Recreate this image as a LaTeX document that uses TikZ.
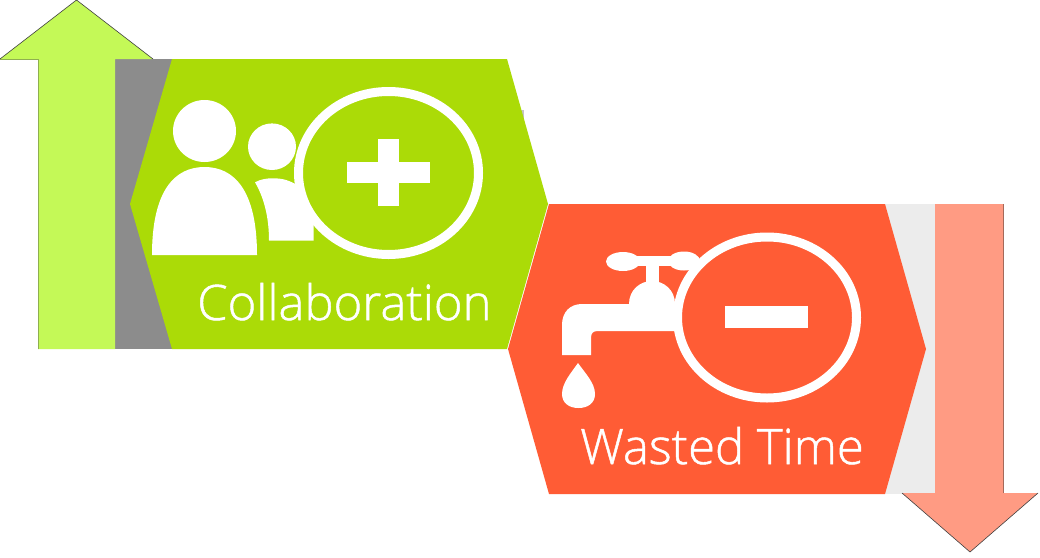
\documentclass[tikz,border=0pt]{standalone}
\usepackage{fontspec}
\newfontfamily\lblfont[RawFeature={embolden=1.0}]{Open Sans Light}
\definecolor{limeA}{HTML}{C4F957}
\definecolor{limeEdge}{HTML}{8FAF50}
\definecolor{greenB}{HTML}{ABDB07}
\definecolor{redB}{HTML}{FF5C35}
\definecolor{salmonA}{HTML}{FF9B83}
\definecolor{salmonEdge}{HTML}{A5695A}
\definecolor{grayA}{HTML}{8C8C8C}
\definecolor{grayB}{HTML}{ECECEC}
\definecolor{grayC}{HTML}{C4C4C4}
\tikzset{
  shapefill/.style={fill=#1,draw=none},
  icon/.style={fill=white,draw=none},
  ringmark/.style={fill=#1,draw=white,line width=9pt},
  caption/.style={text=white,anchor=base west,inner sep=0pt,font=\lblfont\fontsize{49}{49}\selectfont},
  edgeline/.style={draw=#1,line width=0.6pt}
}
\begin{document}
\begin{tikzpicture}[x=1pt,y=-1pt]
\useasboundingbox (0,0) rectangle (1040,557);
\fill[white] (0,0) rectangle (1040,557);
% left arrow and backing
\fill[shapefill=grayC] (521,110) -- (524,110) -- (524,122) -- (521,122) -- cycle;
\fill[shapefill=grayA] (115,59) rectangle (175,349);
\fill[shapefill=limeA] (76.5,0) -- (153,59) -- (115,59) -- (115,349) -- (38,349) -- (38,59) -- (0,59) -- cycle;
\draw[edgeline=limeEdge] (38,349) -- (38,59) -- (0,59);
\draw[edgeline=black!75] (0,59) -- (76.5,0) -- (153,59);
% right arrow and backing
\fill[shapefill=grayB] (880,204) rectangle (935,494);
\fill[shapefill=salmonA] (935,204) -- (1003,204) -- (1003,493) -- (1038,493) -- (970,552) -- (902,493) -- (935,493) -- cycle;
\draw[edgeline=salmonEdge] (1003,204) -- (1003,493);
\draw[edgeline=black!75] (902,493) -- (970,552) -- (1038,493);
% hexagons
\fill[shapefill=greenB] (172,59) -- (507,59) -- (548,204) -- (507,349) -- (172,349) -- (130,204) -- cycle;
\fill[shapefill=redB] (549,204) -- (885,204) -- (926,349) -- (885,494) -- (549,494) -- (508,349) -- cycle;
% people icon
\fill[icon] (204.5,131) ellipse [x radius=31.5,y radius=31];
\fill[icon] (152,255) .. controls (152,190) and (175,167) .. (204.5,167) .. controls (234,167) and (257,190) .. (257,255) -- cycle;
\fill[icon] (272,146.7) ellipse [x radius=24,y radius=23.3];
\fill[icon] (255,182.3) .. controls (261,179) and (267,178.3) .. (273,178.3) .. controls (282,178.3) and (290,180) .. (300,187) -- (320,205) -- (313.5,225) -- (313.5,240.7) -- (269,240.7) .. controls (269,215) and (263,196) .. (255,182.3) -- cycle;
% plus ring
\draw[ringmark=greenB] (388.5,173) ellipse [x radius=90,y radius=81.5];
\fill[icon] (347,162) rectangle (430,183);
\fill[icon] (378,139) rectangle (399.3,206);
% faucet icon
\fill[icon] (623,261.5) ellipse [x radius=17,y radius=9.5];
\fill[icon] (684,261) ellipse [x radius=16,y radius=9.5];
\fill[icon] (635,256) rectangle (672,266);
\fill[icon] (646,262) rectangle (659,285);
\fill[icon] (562,355) -- (562,325) .. controls (562,312) and (570,304) .. (582,304) -- (629,304) .. controls (629,290) and (640,281) .. (652,281) .. controls (664,281) and (675,290) .. (675,304) -- (682,304) -- (682,331) -- (598,331) .. controls (593,331) and (591,333) .. (591,338) -- (591,355) -- cycle;
\fill[icon] (578,363) .. controls (585,373) and (595,383) .. (595,394) .. controls (595,403) and (588,408) .. (578.5,408) .. controls (569,408) and (562,403) .. (562,394) .. controls (562,383) and (571,373) .. (578,363) -- cycle;
% minus ring
\draw[ringmark=redB] (767,317.5) ellipse [x radius=89.5,y radius=80.5];
\fill[icon] (725,306.3) rectangle (808,327.7);
% captions
\node[caption] (collab) at (197,320) {Collaboration};
\node[caption] (wasted) at (580,464) {Wasted Time};
\end{tikzpicture}
\end{document}
